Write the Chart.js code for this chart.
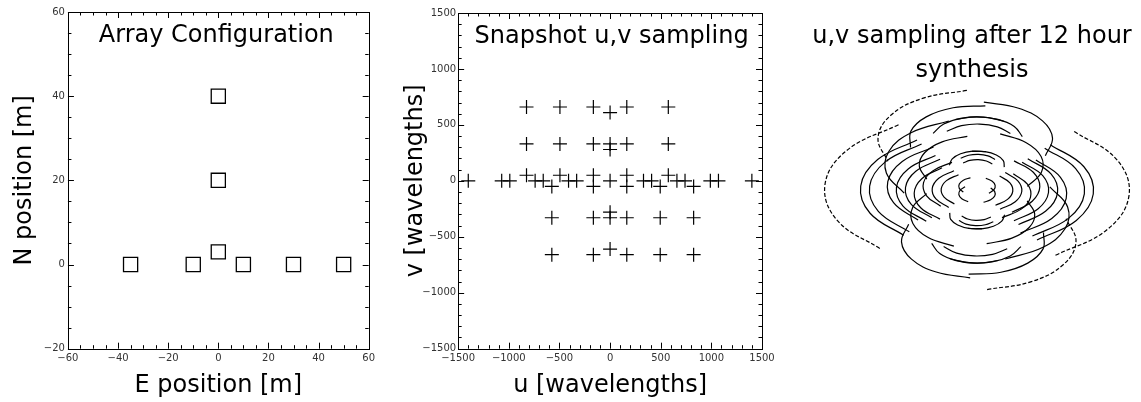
<!DOCTYPE html>
<html>
<head>
<meta charset="utf-8">
<script src="https://cdn.jsdelivr.net/npm/chart.js@4.4.1/dist/chart.umd.min.js"></script>
<style>
  html, body { margin: 0; padding: 0; background: #fff; }
  body { width: 1141px; height: 402px; position: relative; overflow: hidden; }
  .panel { position: absolute; top: 0; height: 402px; }
</style>
</head>
<body>
<div class="panel" style="left:0;width:380px"><canvas id="arrayChart"></canvas></div>
<div class="panel" style="left:380px;width:400px"><canvas id="snapshotChart"></canvas></div>
<div class="panel" style="left:805px;width:336px"><canvas id="synthesisChart"></canvas></div>
<script>
// antenna positions [m]
const antennaE = [-35, -10, 0, 10, 30, 50, 0, 0];
const antennaN = [0, 0, 3, 0, 0, 0, 20, 40];

// snapshot u,v points [wavelengths]
const snapU = [575, 165, -165, -495, -825, 0,
               575, 165, -165, -495, -825, 0, 0,
               575, 165, -165, -495, -825,
               1400, 1070, 990, 740, 660, 410, 330, 0, -330, -410, -660, -740, -990, -1070, -1400,
               -575, -165, 165, 495, 825,
               -575, -165, 165, 495, 825, 0, 0,
               -575, -165, 165, 495, 825, 0];
const snapV = [660, 660, 660, 660, 660, 610,
               330, 330, 330, 330, 330, 330, 280,
               50, 50, 50, 50, 50,
               0, 0, 0, 0, 0, 0, 0, 0, 0, 0, 0, 0, 0, 0, 0,
               -50, -50, -50, -50, -50,
               -330, -330, -330, -330, -330, -330, -280,
               -660, -660, -660, -660, -660, -610];

// 12 hour tracks, one row per baseline (E,N in m), read along each arc [wavelengths]
const baselineNames = ['20,0', '25,0', '40,0', '45,0', '60,0', '65,0', '85,0',
                       '35,3', '10,3', '-10,3', '-30,3', '-50,3',
                       '35,20', '10,20', '-10,20', '-30,20', '-50,20', '0,17',
                       '35,40', '10,40', '-10,40', '-30,40', '-50,40', '0,37', '0,20'];
const trackU = [
  [170, 281, 329, 303, 208], [212, 352, 412, 378, 260], [340, 563, 658, 605, 415],
  [382, 633, 741, 681, 467], [510, 844, 988, 908, 623], [552, 914, 1070, 984, 675],
  [722, 1196, 1399, 1286, 883],
  [322, 508, 578, 518, 341], [110, 156, 167, 140, 81], [-60, -126, -163, -163, -126],
  [-230, -407, -492, -466, -334], [-400, -688, -821, -768, -542],
  [463, 593, 590, 453, 213], [251, 242, 178, 74, -47], [81, -40, -151, -228, -254],
  [-89, -321, -480, -531, -462], [-259, -602, -810, -834, -670], [141, 86, 12, -66, -128],
  [629, 695, 603, 375, 63], [417, 343, 192, -3, -197], [247, 61, -138, -306, -404],
  [77, -220, -467, -608, -612], [-93, -501, -796, -911, -820], [307, 187, 25, -143, -278],
  [166, 101, 14, -77, -150]
];
const trackV = [
  [-141, -86, -12, 66, 128], [-177, -108, -14, 82, 160], [-283, -172, -23, 132, 256],
  [-318, -194, -26, 148, 288], [-424, -259, -35, 197, 385], [-460, -280, -37, 214, 417],
  [-601, -366, -49, 280, 545],
  [-205, -104, 29, 163, 268], [-29, 4, 43, 81, 108], [113, 90, 55, 15, -20],
  [254, 176, 67, -51, -149], [396, 263, 78, -117, -277],
  [34, 163, 308, 435, 517], [211, 271, 322, 353, 356], [352, 357, 334, 287, 228],
  [494, 443, 345, 222, 100], [635, 529, 357, 156, -28], [239, 267, 279, 272, 249],
  [315, 477, 636, 755, 809], [492, 585, 650, 673, 649], [633, 671, 662, 607, 521],
  [775, 757, 673, 542, 392], [916, 843, 685, 476, 264], [520, 581, 607, 592, 541],
  [281, 314, 328, 320, 292]
];
// conjugate arcs (the mirrored half seen through the centre)
const conjU = [
  [-170, -281, -329, -303, -208], [-212, -352, -412, -378, -260], [-340, -563, -658, -605, -415],
  [-382, -633, -741, -681, -467], [-510, -844, -988, -908, -623], [-552, -914, -1070, -984, -675],
  [-722, -1196, -1399, -1286, -883],
  [-322, -508, -578, -518, -341], [-110, -156, -167, -140, -81], [60, 126, 163, 163, 126],
  [230, 407, 492, 466, 334], [400, 688, 821, 768, 542],
  [-463, -593, -590, -453, -213], [-251, -242, -178, -74, 47], [-81, 40, 151, 228, 254],
  [89, 321, 480, 531, 462], [259, 602, 810, 834, 670], [-141, -86, -12, 66, 128],
  [-629, -695, -603, -375, -63], [-417, -343, -192, 3, 197], [-247, -61, 138, 306, 404],
  [-77, 220, 467, 608, 612], [93, 501, 796, 911, 820], [-307, -187, -25, 143, 278],
  [-166, -101, -14, 77, 150]
];
const conjV = [
  [141, 86, 12, -66, -128], [177, 108, 14, -82, -160], [283, 172, 23, -132, -256],
  [318, 194, 26, -148, -288], [424, 259, 35, -197, -385], [460, 280, 37, -214, -417],
  [601, 366, 49, -280, -545],
  [205, 104, -29, -163, -268], [29, -4, -43, -81, -108], [-113, -90, -55, -15, 20],
  [-254, -176, -67, 51, 149], [-396, -263, -78, 117, 277],
  [-34, -163, -308, -435, -517], [-211, -271, -322, -353, -356], [-352, -357, -334, -287, -228],
  [-494, -443, -345, -222, -100], [-635, -529, -357, -156, 28], [-239, -267, -279, -272, -249],
  [-315, -477, -636, -755, -809], [-492, -585, -650, -673, -649], [-633, -671, -662, -607, -521],
  [-775, -757, -673, -542, -392], [-916, -843, -685, -476, -264], [-520, -581, -607, -592, -541],
  [-281, -314, -328, -320, -292]
];

Chart.defaults.font.family = "'DejaVu Sans', 'Liberation Sans', sans-serif";
Chart.defaults.color = '#000';

let chartInstances = {};

function pairs(xs, ys) {
    return xs.map((x, i) => ({ x: x, y: ys[i] }));
}

function tickLabel(value) {
    return String(value).replace('-', '\u2212');
}

// box round the plot with inward ticks on all four sides
const frameTicks = {
    id: 'frameTicks',
    afterDraw(chart, args, opts) {
        if (!opts.majorX) return;
        let ctx = chart.ctx, a = chart.chartArea;
        let xs = chart.scales.x, ys = chart.scales.y;
        ctx.save();
        ctx.strokeStyle = '#000';
        ctx.lineWidth = 1;
        ctx.strokeRect(Math.round(a.left) + 0.5, Math.round(a.top) + 0.5,
                       Math.round(a.right - a.left), Math.round(a.bottom - a.top));
        ctx.beginPath();
        for (let v = xs.min; v <= xs.max + 1e-9; v += opts.minorX) {
            let len = Math.abs(v / opts.majorX - Math.round(v / opts.majorX)) < 1e-6 ? 6 : 3.5;
            let px = Math.round(xs.getPixelForValue(v)) + 0.5;
            ctx.moveTo(px, a.bottom); ctx.lineTo(px, a.bottom - len);
            ctx.moveTo(px, a.top); ctx.lineTo(px, a.top + len);
        }
        for (let v = ys.min; v <= ys.max + 1e-9; v += opts.minorY) {
            let len = Math.abs(v / opts.majorY - Math.round(v / opts.majorY)) < 1e-6 ? 6 : 3.5;
            let py = Math.round(ys.getPixelForValue(v)) + 0.5;
            ctx.moveTo(a.left, py); ctx.lineTo(a.left + len, py);
            ctx.moveTo(a.right, py); ctx.lineTo(a.right - len, py);
        }
        ctx.stroke();
        ctx.restore();
    }
};

// titles drawn inside / above the plot area
const panelText = {
    id: 'panelText',
    afterDraw(chart, args, opts) {
        if (!opts.lines) return;
        let ctx = chart.ctx, a = chart.chartArea;
        ctx.save();
        ctx.font = "24px 'DejaVu Sans', sans-serif";
        ctx.fillStyle = '#000';
        ctx.textAlign = 'center';
        ctx.textBaseline = 'alphabetic';
        opts.lines.forEach((t, i) => {
            ctx.fillText(t, (a.left + a.right) / 2 + opts.dx, opts.top + i * opts.gap);
        });
        ctx.restore();
    }
};

function axis(min, max, step, title, tickPad, titlePad) {
    return {
        type: 'linear',
        min: min,
        max: max,
        ticks: { stepSize: step, padding: tickPad, autoSkip: false, maxRotation: 0,
                 font: { size: 10 }, color: '#333', callback: tickLabel },
        grid: { display: false, drawTicks: false },
        border: { display: false },
        title: { display: true, text: title, color: '#000',
                 font: { size: 24, lineHeight: 0.68 }, padding: titlePad }
    };
}

function createChart(id, datasets, options) {
    let ctx = document.getElementById(id).getContext('2d');
    if (chartInstances[id]) {
        chartInstances[id].destroy();
    }
    options.responsive = true;
    options.maintainAspectRatio = false;
    options.animation = false;
    options.events = [];
    options.plugins = Object.assign({ legend: { display: false }, tooltip: { enabled: false } }, options.plugins);
    chartInstances[id] = new Chart(ctx, {
        type: 'scatter',
        data: { datasets: datasets },
        options: options,
        plugins: [frameTicks, panelText]
    });
}

createChart('arrayChart', [{
    label: 'Antennas',
    data: pairs(antennaE, antennaN),
    pointStyle: 'rect',
    pointRadius: 10,
    borderColor: '#000',
    borderWidth: 1.3,
    backgroundColor: 'rgba(0,0,0,0)'
}], {
    layout: { padding: { left: 3, right: 10, top: 12, bottom: 0 } },
    scales: {
        x: axis(-60, 60, 20, 'E position [m]', 3.5, { top: 10, bottom: 8 }),
        y: axis(-20, 60, 20, 'N position [m]', 3, { top: 13.5, bottom: 8 })
    },
    plugins: {
        frameTicks: { minorX: 5, majorX: 20, minorY: 5, majorY: 20 },
        panelText: { lines: ['Array Configuration'], top: 41.5, gap: 0, dx: -2 }
    }
});

createChart('snapshotChart', [{
    label: 'Snapshot u,v',
    data: pairs(snapU, snapV),
    pointStyle: 'cross',
    pointRadius: 7,
    borderColor: '#000',
    borderWidth: 1.2
}], {
    layout: { padding: { left: 3, right: 18, top: 13, bottom: 0 } },
    scales: {
        x: axis(-1500, 1500, 500, 'u [wavelengths]', 4, { top: 9, bottom: 8 }),
        y: axis(-1500, 1500, 500, 'v [wavelengths]', 2, { top: 25, bottom: -4 })
    },
    plugins: {
        frameTicks: { minorX: 100, majorX: 500, minorY: 100, majorY: 500 },
        panelText: { lines: ['Snapshot u,v sampling'], top: 43, gap: 0, dx: 1.5 }
    }
});

let arcSets = [];
baselineNames.forEach((name, i) => {
    let dashed = (name === '85,0' || name === '-50,40');
    [[trackU[i], trackV[i]], [conjU[i], conjV[i]]].forEach(arc => {
        arcSets.push({
            label: name,
            data: pairs(arc[0], arc[1]),
            showLine: true,
            tension: 0.4,
            pointRadius: 0,
            borderColor: '#000',
            borderWidth: 1.2,
            borderDash: dashed ? [4, 2] : []
        });
    });
});

createChart('synthesisChart', arcSets, {
    layout: { padding: { left: 9, right: 1, top: 27, bottom: 49 } },
    scales: {
        x: { type: 'linear', min: -1500, max: 1500, display: false },
        y: { type: 'linear', min: -1500, max: 1500, display: false }
    },
    plugins: {
        panelText: { lines: ['u,v sampling after 12 hour', 'synthesis'], top: 43, gap: 34, dx: -5 }
    }
});
</script>
</body>
</html>
